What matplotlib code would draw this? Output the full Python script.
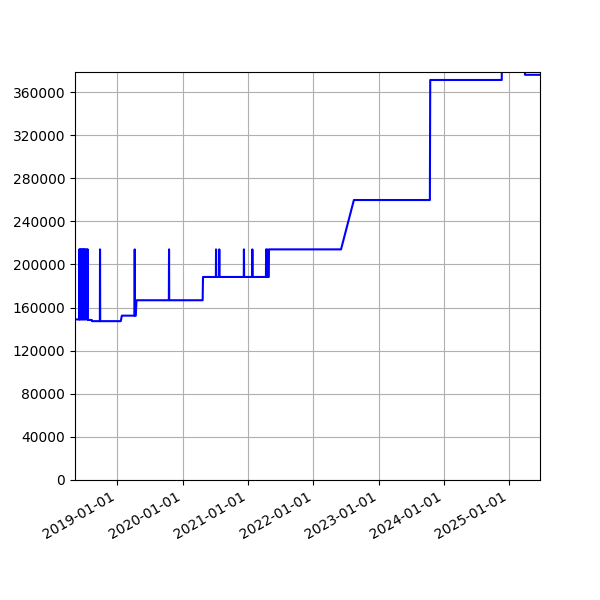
import matplotlib
matplotlib.use("Agg")
import matplotlib.pyplot as plt
import matplotlib.dates as mdates
import matplotlib.ticker as mticker
import pandas as pd

# observed points (date, value)
obs_dates = [
    "2018-05-09", "2018-06-01", "2018-06-02", "2018-06-03", "2018-06-07", "2018-06-08",
    "2018-06-12", "2018-06-13", "2018-06-17", "2018-06-18", "2018-06-22", "2018-06-23",
    "2018-06-27", "2018-06-28", "2018-07-02", "2018-07-03", "2018-07-07", "2018-07-08",
    "2018-07-14", "2018-07-15", "2018-07-19", "2018-07-20", "2018-08-11", "2018-08-12",
    "2018-09-25", "2018-09-26", "2018-09-27", "2019-01-20", "2019-01-26", "2019-04-07",
    "2019-04-08", "2019-04-09", "2019-04-14", "2019-04-18", "2019-10-16", "2019-10-17",
    "2019-10-18", "2020-04-22", "2020-04-24", "2020-07-05", "2020-07-06", "2020-07-07",
    "2020-07-23", "2020-07-24", "2020-07-25", "2020-12-08", "2020-12-09", "2020-12-10",
    "2021-01-24", "2021-01-25", "2021-01-26", "2021-04-11", "2021-04-12", "2021-04-13",
    "2021-04-18", "2021-04-19", "2021-04-20", "2021-04-27", "2021-04-28", "2022-06-05",
    "2022-08-16", "2023-10-15", "2023-10-17", "2024-11-20", "2024-11-21", "2025-03-29",
    "2025-03-30", "2025-06-22",
]
obs_values = [
    149000, 149000, 214000, 149000, 214000, 149000,
    214000, 149000, 214000, 149000, 214000, 149000,
    214000, 149000, 214000, 149000, 214000, 149000,
    214000, 149000, 214000, 148500, 148500, 147400,
    147400, 214000, 147400, 147400, 152500, 152500,
    214000, 152500, 152500, 166800, 166800, 214000,
    166800, 166800, 188400, 188400, 214000, 188400,
    188400, 214000, 188400, 188400, 214000, 188400,
    188400, 214000, 188400, 188400, 214000, 188400,
    188400, 214000, 188400, 188400, 214000, 214000,
    259800, 259800, 371200, 371200, 400000, 400000,
    376000, 376000,
]

dates = pd.to_datetime(obs_dates)

fig, ax = plt.subplots(figsize=(6, 6), dpi=100)
ax.plot(dates, obs_values, color="blue")
ax.set_xlim(dates[0], dates[-1])
ax.set_ylim(0, 378600)
ax.yaxis.set_major_locator(mticker.MultipleLocator(40000))
ax.xaxis.set_major_locator(mdates.YearLocator())
ax.xaxis.set_major_formatter(mdates.DateFormatter("%Y-%m-%d"))
ax.grid(True)
fig.autofmt_xdate()

fig.savefig("out.png")
